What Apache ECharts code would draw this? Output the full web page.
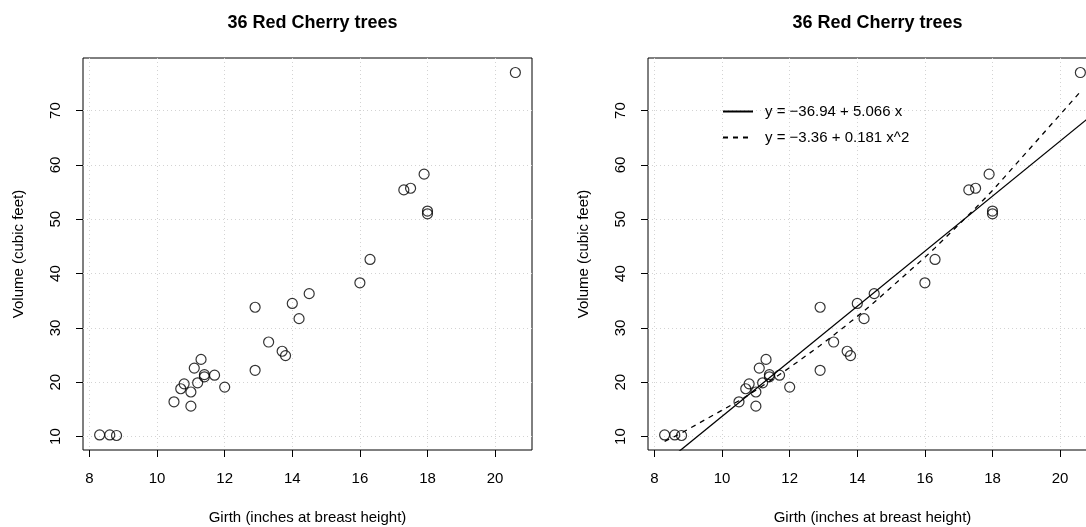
<!DOCTYPE html>
<html>
<head>
<meta charset="utf-8">
<script src="https://cdn.jsdelivr.net/npm/echarts@6/dist/echarts.min.js"></script>
<style>
html,body{margin:0;padding:0;background:#fff;}
#chart{width:1086px;height:527px;}
</style>
</head>
<body>
<div id="chart"></div>
<script>
// ---- data (R "trees" data as shown) ----
const girth = [8.3, 8.6, 8.8, 10.5, 10.7, 10.8, 11.0, 11.0, 11.1, 11.2, 11.3, 11.4, 11.4, 11.7, 12.0, 12.9, 12.9, 13.3, 13.7, 13.8, 14.0, 14.2, 14.5, 16.0, 16.3, 17.3, 17.5, 17.9, 18.0, 18.0, 20.6];
const volume = [10.3, 10.3, 10.2, 16.4, 18.8, 19.7, 15.6, 18.2, 22.6, 19.9, 24.2, 21.0, 21.4, 21.3, 19.1, 22.2, 33.8, 27.4, 25.7, 24.9, 34.5, 31.7, 36.3, 38.3, 42.6, 55.4, 55.7, 58.3, 51.5, 51.0, 77.0];
// fitted values of the quadratic model y = -3.36 + 0.181 x^2 at the girths
const quadFitX = [8.3, 8.6, 8.8, 10.5, 10.7, 10.8, 11.0, 11.1, 11.2, 11.3, 11.4, 11.7, 12.0, 12.9, 13.3, 13.7, 13.8, 14.0, 14.2, 14.5, 16.0, 16.3, 17.3, 17.5, 17.9, 18.0, 20.6];
const quadFitY = [9.11, 10.03, 10.66, 16.60, 17.36, 17.75, 18.54, 18.94, 19.35, 19.75, 20.16, 21.42, 22.70, 26.76, 28.66, 30.61, 31.11, 32.12, 33.14, 34.70, 42.98, 44.73, 50.81, 52.07, 54.63, 55.28, 73.45];
// straight-line fit y = -36.94 + 5.066 x across the plotting range
const linFitX = [7.808, 21.092];
const linFitY = [2.62, 69.91];
const xTicks = [8, 10, 12, 14, 16, 18, 20];
const yTicks = [10, 20, 30, 40, 50, 60, 70];
const titleText = '36 Red Cherry trees';
const xName = 'Girth (inches at breast height)';
const yName = 'Volume (cubic feet)';
const legendNames = ['y = \u221236.94 + 5.066 x', 'y = \u22123.36 + 0.181 x^2'];

const FONT = '"Liberation Sans", Arial, Helvetica, sans-serif';
const pts = girth.map((g, i) => [g, volume[i]]);
const quad = quadFitX.map((g, i) => [g, quadFitY[i]]);
const lin = linFitX.map((g, i) => [g, linFitY[i]]);

function xAx(gi) {
  return {
    gridIndex: gi, type: 'value', min: 7.808, max: 21.092,
    name: xName, nameLocation: 'middle', nameGap: 60,
    nameTextStyle: {fontFamily: FONT, fontSize: 15, color: '#000'},
    axisLine: {show: false},
    axisTick: {show: true, inside: false, length: 7, customValues: xTicks, lineStyle: {color: '#000', width: 1}},
    axisLabel: {customValues: xTicks, margin: 21, fontFamily: FONT, fontSize: 15, color: '#000'},
    splitLine: {show: true, lineStyle: {color: '#d3d3d3', type: [1, 3], width: 1}}
  };
}
function yAx(gi) {
  return {
    gridIndex: gi, type: 'value', min: 7.528, max: 79.672,
    name: yName, nameLocation: 'middle', nameGap: 57, nameRotate: 90,
    nameTextStyle: {fontFamily: FONT, fontSize: 15, color: '#000'},
    axisLine: {show: false},
    axisTick: {show: true, inside: false, length: 7, customValues: yTicks, lineStyle: {color: '#000', width: 1}},
    axisLabel: {customValues: yTicks, rotate: 90, margin: 20, fontFamily: FONT, fontSize: 15, color: '#000'},
    splitLine: {show: true, lineStyle: {color: '#d3d3d3', type: [1, 3], width: 1}}
  };
}
const pointStyle = {
  symbol: 'circle', symbolSize: 10,
  itemStyle: {color: 'rgba(0,0,0,0)', borderColor: '#000', borderWidth: 1.2}
};

const chart = echarts.init(document.getElementById('chart'), null, {renderer: 'canvas'});
chart.setOption({
  backgroundColor: '#fff',
  animation: false,
  title: [
    {text: titleText, left: 307.5, top: 9, textAlign: 'center',
     textStyle: {fontFamily: FONT, fontSize: 18, fontWeight: 'bold', color: '#000'}},
    {text: titleText, left: 872.5, top: 9, textAlign: 'center',
     textStyle: {fontFamily: FONT, fontSize: 18, fontWeight: 'bold', color: '#000'}}
  ],
  grid: [
    {left: 83, top: 58, width: 449, height: 392, show: true, borderColor: '#000', borderWidth: 1,
     backgroundColor: 'transparent', outerBoundsMode: 'none', containLabel: false},
    {left: 648, top: 58, width: 449, height: 392, show: true, borderColor: '#000', borderWidth: 1,
     backgroundColor: 'transparent', outerBoundsMode: 'none', containLabel: false}
  ],
  xAxis: [xAx(0), xAx(1)],
  yAxis: [yAx(0), yAx(1)],
  legend: {
    orient: 'vertical', left: 717, top: 99,
    itemWidth: 30, itemHeight: 14, itemGap: 11,
    itemStyle: {color: 'rgba(0,0,0,0)', borderWidth: 0, opacity: 0},
    textStyle: {fontFamily: FONT, fontSize: 15, color: '#000', padding: [0, 0, 0, 7]},
    data: legendNames,
    selectedMode: false
  },
  series: [
    Object.assign({type: 'scatter', xAxisIndex: 0, yAxisIndex: 0, data: pts, silent: true}, pointStyle),
    Object.assign({type: 'scatter', xAxisIndex: 1, yAxisIndex: 1, data: pts, silent: true}, pointStyle),
    {name: legendNames[0], type: 'line', xAxisIndex: 1, yAxisIndex: 1, data: lin, clip: true,
     symbol: 'none', showSymbol: false, lineStyle: {color: '#000', width: 1.3, type: 'solid'}, itemStyle: {color: '#000'}},
    {name: legendNames[1], type: 'line', xAxisIndex: 1, yAxisIndex: 1, data: quad, clip: true,
     symbol: 'none', showSymbol: false, lineStyle: {color: '#000', width: 1.3, type: [5, 5]}, itemStyle: {color: '#000'}}
  ]
});
</script>
</body>
</html>
